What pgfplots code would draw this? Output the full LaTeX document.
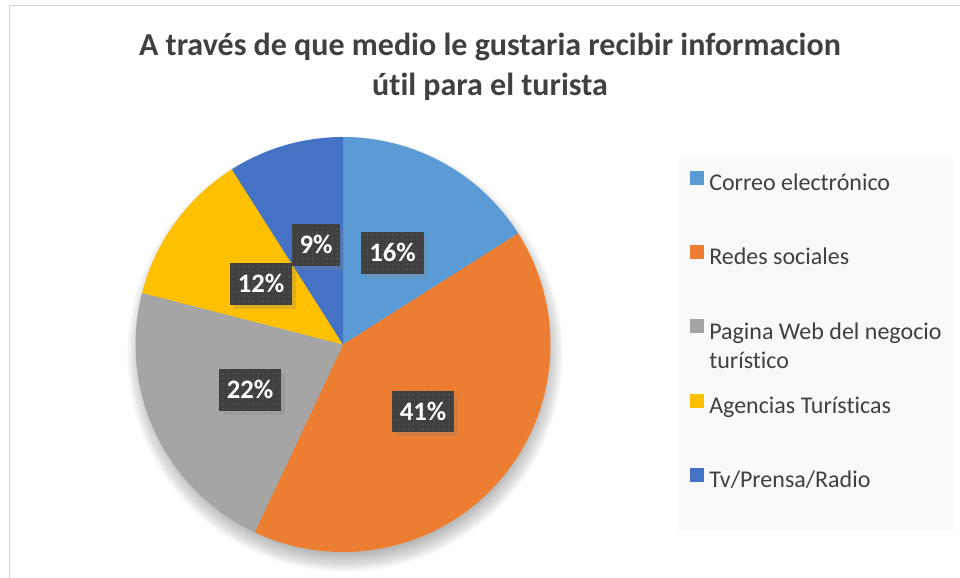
\documentclass[border=0pt]{standalone}
\usepackage{pgfplots}
\pgfplotsset{compat=1.18}
\usepackage{pgfplotstable}
\usepackage{fontspec}
\setmainfont{Carlito}[Ligatures=NoCommon]
\usetikzlibrary{patterns.meta,shadows}
\definecolor{c1}{HTML}{5B9BD5}
\definecolor{c2}{HTML}{ED7D31}
\definecolor{c3}{HTML}{A5A5A5}
\definecolor{c4}{HTML}{FFC000}
\definecolor{c5}{HTML}{4472C4}
\definecolor{tcol}{HTML}{404040}
\definecolor{labbg}{HTML}{404040}
\definecolor{labdot}{HTML}{585858}
\definecolor{legbg}{HTML}{F9F9F9}
\definecolor{frame}{HTML}{D0D0D0}

% value = percentage of each slice; lx, ly = label centre (px, y up)
\pgfplotstableread{
value lx ly
16 392.5 325
41 423 166.5
22 250 188
12 261 294
9 316 333
}\piedata

\def\cx{343}
\def\cy{233.5}
\def\R{207.5}

\pgfmathsetmacro\aA{90}
\pgfplotstablegetelem{0}{value}\of\piedata \pgfmathsetmacro\aB{\aA-3.6*\pgfplotsretval}
\pgfplotstablegetelem{1}{value}\of\piedata \pgfmathsetmacro\aC{\aB-3.6*\pgfplotsretval}
\pgfplotstablegetelem{2}{value}\of\piedata \pgfmathsetmacro\aD{\aC-3.6*\pgfplotsretval}
\pgfplotstablegetelem{3}{value}\of\piedata \pgfmathsetmacro\aE{\aD-3.6*\pgfplotsretval}
\pgfplotstablegetelem{4}{value}\of\piedata \pgfmathsetmacro\aF{\aE-3.6*\pgfplotsretval}

\begin{document}
\begin{tikzpicture}
\begin{axis}[
  x=0.75pt, y=0.75pt,
  xmin=0, xmax=960, ymin=0, ymax=578,
  hide axis, clip=false,
  /pgf/number format/assume math mode=true,
  legend image code/.code={\fill[#1] (0pt,0pt) rectangle (10.5pt,10.5pt); \path (14.25pt,0pt);},
  legend cell align=left,
  legend style={draw=none, fill=none, at={(axis cs:690,407.7)}, anchor=north west,
    inner sep=0pt, row sep=35.75pt, font=\fontsize{18}{21.75}\selectfont, text=tcol,
    nodes={inner sep=0pt, text height=14pt, text depth=5pt}},
]
% frame (top and left edges)
\draw[frame, line width=1.1pt] (axis cs:9.5,0) -- (axis cs:9.5,572.5) -- (axis cs:960,572.5);
% legend background
\fill[legbg] (axis cs:677,48) rectangle (axis cs:954,419);
% soft shadow of the pie
\pgfplotsinvokeforeach{0,...,15}{
  \fill[black, fill opacity=0.018] (axis cs:345,224) circle[radius={(218-#1*1.2)*0.75pt}];
}
% slices
\addplot[fill=c1, draw=none, domain=\aB:\aA, samples=60, variable=\t]
  ({\cx+\R*cos(\t)},{\cy+\R*sin(\t)}) -- (axis cs:\cx,\cy) -- cycle;
\addlegendentry{Correo electrónico}
\addplot[fill=c2, draw=none, domain=\aC:\aB, samples=100, variable=\t]
  ({\cx+\R*cos(\t)},{\cy+\R*sin(\t)}) -- (axis cs:\cx,\cy) -- cycle;
\addlegendentry{Redes sociales}
\addplot[fill=c3, draw=none, domain=\aD:\aC, samples=80, variable=\t]
  ({\cx+\R*cos(\t)},{\cy+\R*sin(\t)}) -- (axis cs:\cx,\cy) -- cycle;
\addlegendentry{\vphantom{Pg}\smash{\begin{tabular}[t]{@{}l@{}}Pagina Web del negocio\\turístico\end{tabular}}}
\addplot[fill=c4, draw=none, domain=\aE:\aD, samples=50, variable=\t]
  ({\cx+\R*cos(\t)},{\cy+\R*sin(\t)}) -- (axis cs:\cx,\cy) -- cycle;
\addlegendentry{Agencias Turísticas}
\addplot[fill=c5, draw=none, domain=\aF:\aE, samples=50, variable=\t]
  ({\cx+\R*cos(\t)},{\cy+\R*sin(\t)}) -- (axis cs:\cx,\cy) -- cycle;
\addlegendentry{Tv/Prensa/Radio}
% data labels
\addplot[forget plot, draw=none, mark=none,
  point meta=\thisrow{value},
  nodes near coords={\pgfmathprintnumber{\pgfplotspointmeta}\%},
  nodes near coords style={anchor=center, text=white, fill=labbg,
    font=\fontsize{20}{22}\selectfont\bfseries,
    inner xsep=6pt, inner ysep=0pt, text height=13.5pt, text depth=0.5pt, minimum height=31pt,
    drop shadow={shadow xshift=3pt, shadow yshift=-3pt, opacity=0.25},
    postaction={pattern={Dots[distance=4pt, radius=0.7pt]}, pattern color=labdot}},
] table[x=lx, y=ly] {\piedata};
% title
\node[font=\fontsize{24}{30}\selectfont\bfseries, text=tcol, align=center]
  at (axis cs:490,511) {A través de que medio le gustaria recibir informacion\\útil para el turista};
\end{axis}
\pgfresetboundingbox
\path (0,0) rectangle (720pt,433.5pt);
\end{tikzpicture}
\end{document}
